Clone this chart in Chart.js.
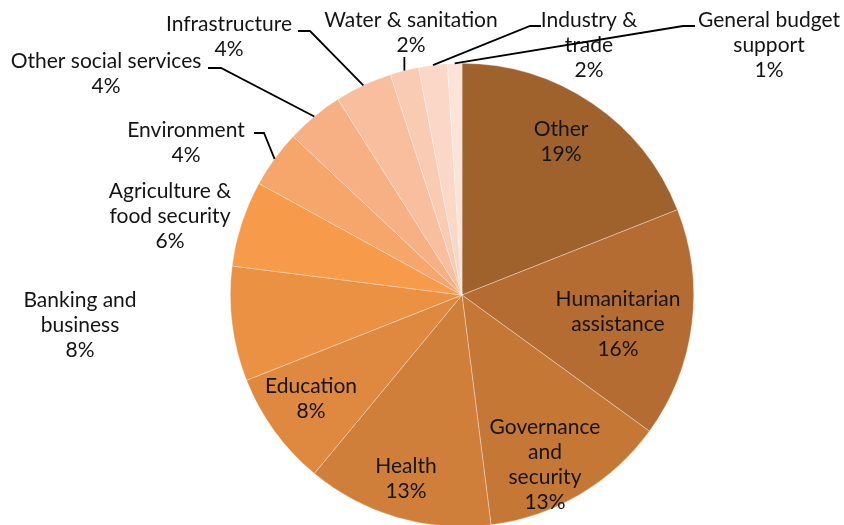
<!DOCTYPE html>
<html lang="en">
<head>
  <meta charset="UTF-8">
  <title>Aid by sector</title>
  <script src="https://cdn.jsdelivr.net/npm/chart.js"></script>
  <style>
    html, body { margin: 0; padding: 0; background: #fff; overflow: hidden; }
  </style>
</head>
<body>
  <canvas id="sectorPie" width="844" height="540"></canvas>

  <script>
    // Sector shares (percent), clockwise from the top
    const sectors = ['Other', 'Humanitarian assistance', 'Governance and security', 'Health',
      'Education', 'Banking and business', 'Agriculture & food security', 'Environment',
      'Other social services', 'Infrastructure', 'Water & sanitation', 'Industry & trade',
      'General budget support'];
    const shares = [19, 16, 13, 13, 8, 8, 6, 4, 4, 4, 2, 2, 1];
    const sliceColors = ['#A0622D', '#B46C33', '#C57736', '#D07F3A', '#DF883F', '#EB9144',
      '#F79A4A', '#F6A56B', '#F7B084', '#F8BE9D', '#F9CBB3', '#FAD7C6', '#FBE3D8'];

    // How each label name wraps
    const labelLines = [
      ['Other'],
      ['Humanitarian', 'assistance'],
      ['Governance', 'and', 'security'],
      ['Health'],
      ['Education'],
      ['Banking and', 'business'],
      ['Agriculture &', 'food security'],
      ['Environment'],
      ['Other social services'],
      ['Infrastructure'],
      ['Water & sanitation'],
      ['Industry &', 'trade'],
      ['General budget', 'support']
    ];

    // Label placement: text centre (first line) and optional leader line (elbow, end)
    const labelPlaces = [
      { x: 561, y: 129 },
      { x: 618, y: 299 },
      { x: 545, y: 427 },
      { x: 406, y: 466 },
      { x: 311, y: 386 },
      { x: 80,  y: 300 },
      { x: 170, y: 191 },
      { x: 186, y: 130, elbow: [264, 133], end: [254, 133] },
      { x: 106, y: 61,  elbow: [221, 68],  end: [208, 68] },
      { x: 229, y: 24,  elbow: [310, 31],  end: [298, 31] },
      { x: 411, y: 20,  elbow: null,       end: [null, 57] },
      { x: 589, y: 20,  elbow: [530, 26],  end: [541, 26] },
      { x: 769, y: 20,  elbow: [683, 26],  end: [695, 26] }
    ];

    const LINE_H = 25;

    const sliceLabels = {
      id: 'sliceLabels',
      afterDatasetsDraw(chart) {
        const ctx = chart.ctx;
        const arcs = chart.getDatasetMeta(0).data;
        ctx.save();
        ctx.font = '21px Lato, "Open Sans", sans-serif';
        ctx.fillStyle = '#141414';
        ctx.textAlign = 'center';
        ctx.textBaseline = 'middle';
        arcs.forEach((arc, i) => {
          const p = labelPlaces[i];
          const lines = labelLines[i].concat([shares[i] + '%']);
          lines.forEach((t, k) => ctx.fillText(t, p.x, p.y + k * LINE_H));

          if (p.end) {
            const a = arc.getProps(['x', 'y', 'startAngle', 'endAngle', 'outerRadius'], true);
            const mid = (a.startAngle + a.endAngle) / 2;
            const sx = a.x + Math.cos(mid) * a.outerRadius;
            const sy = a.y + Math.sin(mid) * a.outerRadius;
            ctx.beginPath();
            ctx.strokeStyle = '#000';
            ctx.lineWidth = 1.8;
            ctx.moveTo(sx, sy);
            if (p.elbow) {
              ctx.lineTo(p.elbow[0], p.elbow[1]);
              ctx.lineTo(p.end[0], p.end[1]);
            } else {
              ctx.lineTo(sx, p.end[1]);
            }
            ctx.stroke();
          }
        });
        ctx.restore();
      }
    };

    const ctx = document.getElementById('sectorPie').getContext('2d');
    const sectorPie = new Chart(ctx, {
      type: 'pie',
      data: {
        labels: sectors,
        datasets: [{
          data: shares,
          backgroundColor: sliceColors,
          borderColor: 'rgba(255,255,255,0.55)',
          borderWidth: 0.6
        }]
      },
      options: {
        responsive: false,
        animation: false,
        layout: { padding: { top: 63, bottom: 13, left: 230, right: 150 } },
        plugins: {
          legend: { display: false },
          tooltip: { enabled: false }
        }
      },
      plugins: [sliceLabels]
    });
  </script>
</body>
</html>
